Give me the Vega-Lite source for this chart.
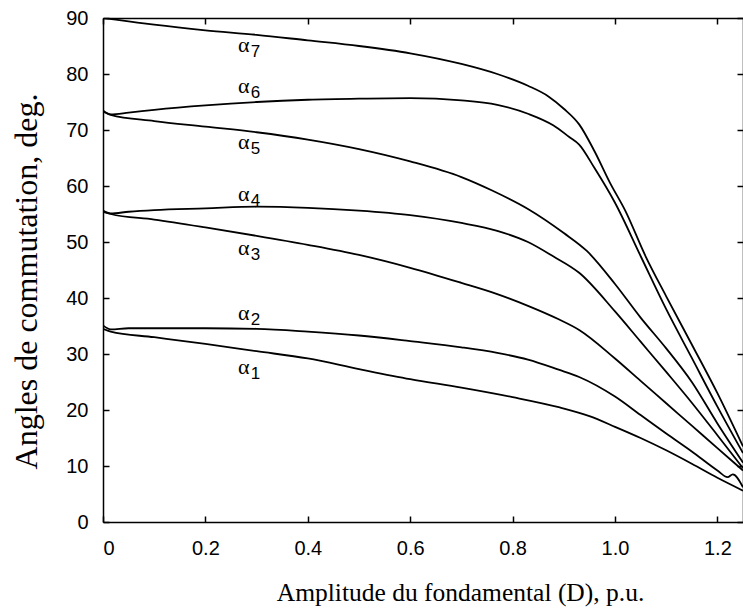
{
  "$schema": "https://vega.github.io/schema/vega-lite/v6.json",
  "autosize": "none",
  "width": 640,
  "height": 504,
  "padding": {"left": 103, "top": 18, "right": 0, "bottom": 86},
  "background": "white",
  "config": {"view": {"stroke": null}},
  "datasets": {
    "curves": [
      {"s":"a7","x":0,"y":90},{"s":"a7","x":0.05,"y":89.4},{"s":"a7","x":0.1,"y":88.8},{"s":"a7","x":0.2,"y":87.8},{"s":"a7","x":0.3,"y":87.0},{"s":"a7","x":0.4,"y":86.0},{"s":"a7","x":0.5,"y":85.0},{"s":"a7","x":0.6,"y":83.7},{"s":"a7","x":0.7,"y":81.8},{"s":"a7","x":0.77,"y":80.0},{"s":"a7","x":0.83,"y":77.9},{"s":"a7","x":0.87,"y":76.0},{"s":"a7","x":0.9,"y":73.8},{"s":"a7","x":0.93,"y":71.0},{"s":"a7","x":0.96,"y":66.2},{"s":"a7","x":0.99,"y":60.6},{"s":"a7","x":1.02,"y":55.6},{"s":"a7","x":1.06,"y":47.4},{"s":"a7","x":1.1,"y":40.3},{"s":"a7","x":1.15,"y":31.7},{"s":"a7","x":1.2,"y":23.0},{"s":"a7","x":1.25,"y":13.5},
      {"s":"a6","x":0,"y":73.5},{"s":"a6","x":0.015,"y":72.8},{"s":"a6","x":0.05,"y":73.1},{"s":"a6","x":0.1,"y":73.6},{"s":"a6","x":0.2,"y":74.4},{"s":"a6","x":0.3,"y":75.0},{"s":"a6","x":0.4,"y":75.4},{"s":"a6","x":0.5,"y":75.6},{"s":"a6","x":0.6,"y":75.7},{"s":"a6","x":0.7,"y":75.3},{"s":"a6","x":0.77,"y":74.5},{"s":"a6","x":0.83,"y":72.9},{"s":"a6","x":0.88,"y":70.8},{"s":"a6","x":0.91,"y":68.8},{"s":"a6","x":0.93,"y":67.4},{"s":"a6","x":0.96,"y":63.2},{"s":"a6","x":1.0,"y":57.0},{"s":"a6","x":1.05,"y":47.5},{"s":"a6","x":1.1,"y":38.0},{"s":"a6","x":1.15,"y":29.3},{"s":"a6","x":1.2,"y":20.6},{"s":"a6","x":1.25,"y":12.3},
      {"s":"a5","x":0,"y":73.3},{"s":"a5","x":0.015,"y":72.7},{"s":"a5","x":0.1,"y":71.6},{"s":"a5","x":0.2,"y":70.6},{"s":"a5","x":0.3,"y":69.6},{"s":"a5","x":0.4,"y":68.3},{"s":"a5","x":0.5,"y":66.6},{"s":"a5","x":0.6,"y":64.4},{"s":"a5","x":0.7,"y":61.6},{"s":"a5","x":0.76,"y":59.2},{"s":"a5","x":0.83,"y":55.9},{"s":"a5","x":0.9,"y":51.6},{"s":"a5","x":0.945,"y":48.4},{"s":"a5","x":1.0,"y":42.5},{"s":"a5","x":1.05,"y":36.5},{"s":"a5","x":1.1,"y":31.0},{"s":"a5","x":1.15,"y":25.0},{"s":"a5","x":1.2,"y":17.6},{"s":"a5","x":1.25,"y":10.6},
      {"s":"a4","x":0,"y":55.6},{"s":"a4","x":0.015,"y":55.1},{"s":"a4","x":0.05,"y":55.4},{"s":"a4","x":0.1,"y":55.7},{"s":"a4","x":0.2,"y":56.0},{"s":"a4","x":0.3,"y":56.3},{"s":"a4","x":0.4,"y":56.1},{"s":"a4","x":0.5,"y":55.6},{"s":"a4","x":0.6,"y":54.8},{"s":"a4","x":0.7,"y":53.4},{"s":"a4","x":0.77,"y":52.0},{"s":"a4","x":0.83,"y":50.0},{"s":"a4","x":0.88,"y":47.4},{"s":"a4","x":0.93,"y":44.5},{"s":"a4","x":1.0,"y":37.6},{"s":"a4","x":1.05,"y":32.2},{"s":"a4","x":1.1,"y":26.8},{"s":"a4","x":1.15,"y":21.3},{"s":"a4","x":1.2,"y":15.5},{"s":"a4","x":1.25,"y":9.6},
      {"s":"a3","x":0,"y":55.4},{"s":"a3","x":0.015,"y":55.0},{"s":"a3","x":0.1,"y":54.0},{"s":"a3","x":0.2,"y":52.6},{"s":"a3","x":0.3,"y":51.1},{"s":"a3","x":0.4,"y":49.5},{"s":"a3","x":0.5,"y":47.7},{"s":"a3","x":0.6,"y":45.4},{"s":"a3","x":0.7,"y":42.7},{"s":"a3","x":0.77,"y":40.7},{"s":"a3","x":0.83,"y":38.6},{"s":"a3","x":0.89,"y":36.2},{"s":"a3","x":0.93,"y":34.3},{"s":"a3","x":1.0,"y":29.2},{"s":"a3","x":1.05,"y":25.2},{"s":"a3","x":1.1,"y":21.2},{"s":"a3","x":1.15,"y":17.2},{"s":"a3","x":1.2,"y":13.2},{"s":"a3","x":1.25,"y":9.2},
      {"s":"a2","x":0,"y":35.1},{"s":"a2","x":0.015,"y":34.4},{"s":"a2","x":0.05,"y":34.6},{"s":"a2","x":0.1,"y":34.6},{"s":"a2","x":0.2,"y":34.6},{"s":"a2","x":0.3,"y":34.5},{"s":"a2","x":0.4,"y":34.0},{"s":"a2","x":0.5,"y":33.3},{"s":"a2","x":0.6,"y":32.3},{"s":"a2","x":0.7,"y":31.2},{"s":"a2","x":0.77,"y":30.2},{"s":"a2","x":0.83,"y":29.0},{"s":"a2","x":0.89,"y":27.2},{"s":"a2","x":0.93,"y":25.9},{"s":"a2","x":1.0,"y":22.4},{"s":"a2","x":1.05,"y":19.1},{"s":"a2","x":1.1,"y":15.8},{"s":"a2","x":1.15,"y":12.6},{"s":"a2","x":1.2,"y":9.2},{"s":"a2","x":1.22,"y":8.0},{"s":"a2","x":1.23,"y":8.5},{"s":"a2","x":1.25,"y":6.2},
      {"s":"a1","x":0,"y":34.5},{"s":"a1","x":0.015,"y":34.0},{"s":"a1","x":0.1,"y":33.0},{"s":"a1","x":0.2,"y":31.8},{"s":"a1","x":0.3,"y":30.5},{"s":"a1","x":0.4,"y":29.2},{"s":"a1","x":0.5,"y":27.3},{"s":"a1","x":0.6,"y":25.5},{"s":"a1","x":0.7,"y":24.0},{"s":"a1","x":0.8,"y":22.3},{"s":"a1","x":0.89,"y":20.5},{"s":"a1","x":0.95,"y":18.9},{"s":"a1","x":1.0,"y":17.0},{"s":"a1","x":1.05,"y":15.0},{"s":"a1","x":1.1,"y":12.8},{"s":"a1","x":1.15,"y":10.4},{"s":"a1","x":1.2,"y":7.9},{"s":"a1","x":1.25,"y":5.6}
    ],
    "labels": [
      {"x":0.275,"y":85.2,"sub":"7"},
      {"x":0.275,"y":77.9,"sub":"6"},
      {"x":0.275,"y":67.9,"sub":"5"},
      {"x":0.275,"y":58.6,"sub":"4"},
      {"x":0.275,"y":48.9,"sub":"3"},
      {"x":0.275,"y":37.3,"sub":"2"},
      {"x":0.275,"y":27.7,"sub":"1"}
    ]
  },
  "resolve": {"axis": {"x": "independent", "y": "independent"}},
  "layer": [
    {
      "data": {"name": "curves"},
      "mark": {"type": "line", "color": "black", "strokeWidth": 1.8, "interpolate": "monotone", "clip": true},
      "encoding": {
        "x": {"field": "x", "type": "quantitative", "scale": {"domain": [0, 1.25], "nice": false},
          "axis": {"orient": "bottom", "values": [0, 0.2, 0.4, 0.6, 0.8, 1.0, 1.2], "labelExpr": "datum.value == 0 ? '0' : format(datum.value, '.1f')",
            "grid": false, "domainColor": "black", "domainWidth": 1.5, "tickColor": "black", "tickSize": -6, "tickWidth": 1.5,
            "labelFont": "Liberation Sans", "labelFontSize": 20, "labelColor": "black", "labelPadding": 22,
            "title": "Amplitude du fondamental (D), p.u.", "titleFont": "Liberation Serif", "titleFontSize": 25.5, "titleFontWeight": "normal", "titleColor": "black",
            "titleX": 357, "titleY": 78, "titleBaseline": "alphabetic", "titleAlign": "center", "titleAnchor": null}},
        "y": {"field": "y", "type": "quantitative", "scale": {"domain": [0, 90], "nice": false},
          "axis": {"orient": "left", "values": [0, 10, 20, 30, 40, 50, 60, 70, 80, 90],
            "grid": false, "domainColor": "black", "domainWidth": 1.5, "tickColor": "black", "tickSize": -6, "tickWidth": 1.5,
            "labelFont": "Liberation Sans", "labelFontSize": 20, "labelColor": "black", "labelPadding": 21,
            "title": "Angles de commutation, deg.", "titleFont": "Liberation Serif", "titleFontSize": 32, "titleFontWeight": "normal", "titleColor": "black",
            "titleAngle": -90, "titleX": -67, "titleY": 263, "titleBaseline": "alphabetic", "titleAlign": "center", "titleAnchor": null}},
        "detail": {"field": "s", "type": "nominal"}
      }
    },
    {
      "data": {"name": "labels"},
      "mark": {"type": "text", "text": "α", "font": "Liberation Serif", "fontSize": 22, "color": "black", "align": "center", "baseline": "middle"},
      "encoding": {
        "x": {"field": "x", "type": "quantitative",
          "axis": {"orient": "top", "values": [0, 0.2, 0.4, 0.6, 0.8, 1.0, 1.2], "labels": false, "title": null, "grid": false,
            "domainColor": "black", "domainWidth": 1.5, "tickColor": "black", "tickSize": -6, "tickWidth": 1.5}},
        "y": {"field": "y", "type": "quantitative",
          "axis": {"orient": "right", "values": [0, 10, 20, 30, 40, 50, 60, 70, 80, 90], "labels": false, "title": null, "grid": false,
            "domainColor": "black", "domainWidth": 1.5, "tickColor": "black", "tickSize": -6, "tickWidth": 1.5}}
      }
    },
    {
      "data": {"name": "labels"},
      "mark": {"type": "text", "font": "Liberation Sans", "fontSize": 17, "color": "black", "align": "left", "baseline": "middle", "dx": 7, "dy": 7},
      "encoding": {
        "x": {"field": "x", "type": "quantitative", "axis": null},
        "y": {"field": "y", "type": "quantitative", "axis": null},
        "text": {"field": "sub", "type": "nominal"}
      }
    }
  ]
}
